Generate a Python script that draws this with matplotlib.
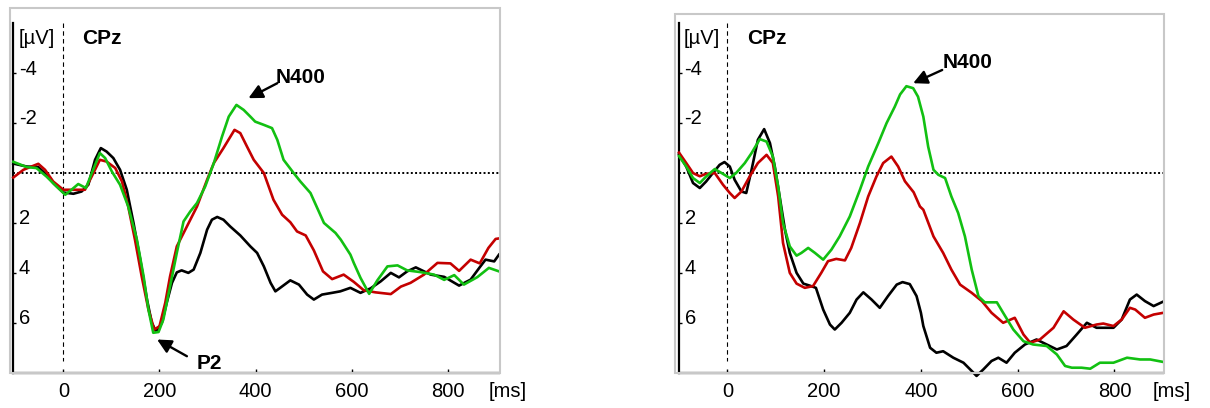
"""ERP waveforms at CPz, two conditions side by side"""
import matplotlib
matplotlib.use('Agg')
import matplotlib.pyplot as plt
import matplotlib.transforms as mtransforms
from matplotlib.patches import Rectangle

plt.rcParams.update({
    'font.family': ['Liberation Sans', 'DejaVu Sans'],
    'font.size': 14.5,
})

# ---- data: time [ms] and amplitude [µV] (negative plotted up) ----
left_black_t = [-104, -76, -52, -35, -21, 0, 21, 38, 52, 66, 78, 90, 104, 118, 132, 146, 160, 174, 184, 193,
                205, 215, 226, 236, 246, 260, 271, 285, 299, 309, 320, 333, 347, 368, 389, 403, 417, 431, 441,
                451, 472, 490, 507, 521, 538, 559, 576, 597, 618, 639, 660, 681, 698, 715, 733, 764, 792, 823,
                847, 865, 878, 896, 906]
left_black_v = [-0.38, -0.26, -0.24, 0.07, 0.40, 0.78, 0.83, 0.74, 0.47, -0.53, -1.0, -0.86, -0.6, -0.13, 0.67,
                2.0, 3.47, 5.07, 6.0, 6.36, 6.0, 5.2, 4.4, 3.98, 3.9, 4.0, 3.87, 3.2, 2.27, 1.87, 1.76, 1.87,
                2.14, 2.5, 2.94, 3.2, 3.74, 4.4, 4.74, 4.6, 4.3, 4.47, 4.87, 5.07, 4.87, 4.8, 4.74, 4.6, 4.8,
                4.62, 4.34, 4.0, 4.18, 3.94, 3.78, 4.07, 4.16, 4.51, 4.27, 3.8, 3.47, 3.54, 3.27]

left_red_t = [-104, -83, -69, -52, -38, -21, 0, 21, 45, 59, 76, 90, 108, 122, 135, 149, 163, 177, 189, 200,
              212, 222, 236, 257, 278, 299, 313, 333, 356, 368, 382, 396, 417, 437, 455, 472, 486, 504, 521,
              540, 559, 583, 604, 625, 649, 681, 702, 722, 750, 778, 805, 823, 847, 866, 884, 899, 906]
left_red_v = [0.18, -0.13, -0.24, -0.37, -0.13, 0.34, 0.67, 0.67, 0.67, 0.14, -0.53, -0.46, -0.2, 0.34, 1.34,
              2.67, 4.14, 5.47, 6.27, 6.14, 5.2, 4.14, 2.94, 2.14, 1.34, 0.27, -0.4, -1.0, -1.73, -1.6, -1.06,
              -0.53, 0.0, 1.07, 1.67, 1.97, 2.34, 2.5, 3.1, 3.94, 4.25, 4.07, 4.36, 4.7, 4.78, 4.85, 4.55, 4.4,
              4.07, 3.6, 3.62, 3.92, 3.47, 3.62, 3.0, 2.64, 2.62]

left_green_t = [-104, -76, -56, -35, -14, 4, 17, 31, 47, 62, 76, 87, 101, 118, 135, 153, 167, 177, 187, 198,
                208, 222, 236, 250, 264, 278, 295, 313, 330, 344, 360, 375, 389, 399, 417, 434, 445, 458, 479,
                493, 514, 542, 566, 577, 597, 604, 618, 636, 653, 674, 695, 715, 743, 771, 792, 813, 833, 861,
                885, 906]
left_green_v = [-0.45, -0.24, -0.2, 0.14, 0.54, 0.87, 0.67, 0.44, 0.6, -0.13, -0.8, -0.6, -0.06, 0.47, 1.34,
                2.67, 4.14, 5.47, 6.4, 6.37, 5.87, 4.54, 3.2, 1.94, 1.54, 1.2, 0.54, -0.4, -1.46, -2.26, -2.73,
                -2.53, -2.26, -2.06, -1.93, -1.8, -1.33, -0.53, 0.0, 0.34, 0.8, 2.0, 2.4, 2.67, 3.27, 3.6, 4.2,
                4.84, 4.3, 3.74, 3.7, 3.9, 3.97, 4.07, 4.28, 4.09, 4.47, 4.17, 3.8, 3.94]

right_black_t = [-100, -85, -71, -57, -44, -30, -16, -6, 5, 15, 29, 39, 50, 63, 76, 88, 98, 108, 119, 129, 143,
                 157, 170, 183, 198, 212, 222, 236, 253, 267, 281, 298, 315, 332, 350, 362, 377, 391, 400, 405,
                 419, 432, 446, 467, 488, 505, 515, 529, 546, 560, 577, 594, 615, 639, 660, 681, 701, 722, 743,
                 763, 798, 815, 832, 846, 863, 881, 901]
right_black_v = [-0.75, -0.26, 0.4, 0.6, 0.34, 0.0, -0.33, -0.44, -0.26, 0.27, 0.74, 0.8, -0.13, -1.33, -1.76,
                 -1.2, -0.26, 0.94, 2.27, 3.2, 4.0, 4.43, 4.51, 4.6, 5.47, 6.07, 6.27, 6.0, 5.6, 5.07, 4.78,
                 5.07, 5.4, 4.93, 4.47, 4.37, 4.45, 4.93, 5.6, 6.13, 7.0, 7.2, 7.14, 7.4, 7.6, 7.93, 8.13, 7.87,
                 7.53, 7.4, 7.6, 7.2, 6.87, 6.67, 6.87, 7.07, 6.93, 6.47, 6.0, 6.2, 6.2, 5.87, 5.07, 4.87, 5.13,
                 5.33, 5.15]

right_red_t = [-100, -85, -71, -57, -44, -26, -9, 5, 15, 29, 46, 63, 81, 94, 105, 115, 129, 143, 160, 177, 194,
               208, 225, 243, 256, 274, 291, 308, 322, 339, 353, 367, 385, 398, 405, 426, 446, 463, 481, 505,
               526, 546, 570, 594, 612, 626, 646, 674, 695, 715, 739, 763, 777, 798, 815, 832, 843, 863, 881, 901]
right_red_v = [-0.82, -0.4, 0.0, 0.13, 0.03, 0.0, 0.47, 0.8, 1.0, 0.74, 0.14, -0.4, -0.73, -0.4, 0.94, 2.8, 4.0,
               4.43, 4.6, 4.53, 4.0, 3.53, 3.44, 3.5, 3.0, 2.0, 0.94, 0.14, -0.4, -0.66, -0.26, 0.33, 0.77, 1.34,
               1.47, 2.54, 3.2, 3.87, 4.47, 4.8, 5.13, 5.6, 6.0, 5.8, 6.47, 6.8, 6.67, 6.2, 5.54, 5.87, 6.2, 6.07,
               6.03, 6.13, 5.87, 5.4, 5.47, 5.8, 5.67, 5.6]

right_green_t = [-100, -85, -71, -57, -44, -26, -12, 5, 18, 36, 50, 67, 81, 94, 105, 115, 129, 143, 153, 167,
                 181, 198, 215, 232, 253, 274, 291, 312, 329, 346, 357, 370, 384, 394, 405, 415, 426, 436, 450,
                 463, 477, 491, 505, 519, 532, 557, 570, 591, 612, 632, 660, 681, 698, 712, 732, 750, 770, 798,
                 826, 853, 874, 901]
right_green_v = [-0.68, -0.26, 0.2, 0.4, 0.14, -0.16, 0.0, 0.2, 0.0, -0.4, -0.8, -1.36, -1.26, -0.66, 0.54, 2.0,
                 2.94, 3.31, 3.2, 3.0, 3.2, 3.47, 3.07, 2.54, 1.74, 0.67, -0.26, -1.2, -2.0, -2.66, -3.15, -3.48,
                 -3.4, -3.06, -2.26, -1.06, -0.13, 0.07, 0.2, 0.94, 1.6, 2.54, 3.87, 4.94, 5.18, 5.18, 5.6, 6.27,
                 6.74, 6.87, 6.93, 7.27, 7.73, 7.8, 7.8, 7.84, 7.6, 7.6, 7.4, 7.47, 7.47, 7.57]

xticks = [0, 200, 400, 600, 800]
yticks = [-4, -2, 2, 4, 6]
electrode = 'CPz'
colors = ['#000000', '#C40000', '#12C012']

fig = plt.figure(figsize=(12.1, 4.08), dpi=100)
W, H = 1210, 408

panels = [
    dict(rect=[13.3, 23.3, 499, 372.7], frame=[10, 8.3, 499.5, 373], xlim=(-104, 906),
         curves=[(left_black_t, left_black_v), (left_red_t, left_red_v), (left_green_t, left_green_v)],
         n400=dict(text=(441, -3.84), tail=(445, -3.6), tip=(385, -3.0)),
         p2=dict(text=(278, 7.63), tail=(257, 7.34), tip=(195, 6.67))),
    dict(rect=[679, 23.3, 1163.3, 372.7], frame=[675, 14, 1163.5, 373], xlim=(-100, 901),
         curves=[(right_black_t, right_black_v), (right_red_t, right_red_v), (right_green_t, right_green_v)],
         n400=dict(text=(444, -4.42), tail=(444, -4.13), tip=(384, -3.6)),
         p2=None),
]

arrow_kw = dict(arrowstyle='-|>', color='k', lw=1.7, mutation_scale=21, shrinkA=0, shrinkB=0)

for p in panels:
    x0, y0, x1, y1 = p['rect']
    ax = fig.add_axes([x0 / W, 1 - y1 / H, (x1 - x0) / W, (y1 - y0) / H])
    ax.set_facecolor('none')

    # light grey outer frame
    fx0, fy0, fx1, fy1 = p['frame']
    fig.patches.append(Rectangle((fx0 / W, 1 - fy1 / H), (fx1 - fx0) / W, (fy1 - fy0) / H,
                                 transform=fig.transFigure, fill=False, edgecolor='#c8c8c8', lw=1.5))

    for (t, v), c in zip(p['curves'], colors):
        ax.plot(t, v, color=c, lw=1.9, solid_joinstyle='round', clip_on=False, zorder=3)

    ax.set_xlim(*p['xlim'])
    ax.set_ylim(8, -6)
    ax.axhline(0, color='k', lw=1.4, ls=(0, (1, 1.2)), zorder=2)
    ax.vlines(0, -6, 7.55, color='k', lw=0.8, linestyles=(0, (4, 3)), zorder=2)

    for s in ['top', 'right']:
        ax.spines[s].set_visible(False)
    for s in ['left', 'bottom']:
        ax.spines[s].set_linewidth(1.6)

    ax.set_xticks(xticks)
    ax.set_xticklabels([str(x) for x in xticks])
    ax.tick_params(axis='x', direction='in', length=3, width=1, pad=7, labelsize=14.5)
    ax.set_yticks(yticks)
    ax.tick_params(axis='y', direction='in', length=2, width=1, labelleft=False)

    trans = mtransforms.blended_transform_factory(ax.transAxes, ax.transData)
    for v in yticks:
        ax.annotate(f'{v}', xy=(0, v), xycoords=trans, xytext=(4, 3), textcoords='offset points',
                    ha='left', va='center', fontsize=14.5)

    ax.text(0.010, 0.957, '[µV]', transform=ax.transAxes, ha='left', va='center', fontsize=14.5)
    ax.text(0.141, 0.957, electrode, transform=ax.transAxes, ha='left', va='center',
            fontsize=15, fontweight='bold')
    ax.annotate('[ms]', xy=(1.018, 0), xycoords='axes fraction', xytext=(0, -7),
                textcoords='offset points', ha='center', va='top', fontsize=14.5, annotation_clip=False)

    for key, label in [('n400', 'N400'), ('p2', 'P2')]:
        a = p[key]
        if a is None:
            continue
        ax.annotate('', xy=a['tip'], xytext=a['tail'], arrowprops=arrow_kw, annotation_clip=False)
        ax.text(*a['text'], label, ha='left', va='center', fontsize=15, fontweight='bold', clip_on=False)

plt.savefig('out.png', dpi=100)
plt.close()
